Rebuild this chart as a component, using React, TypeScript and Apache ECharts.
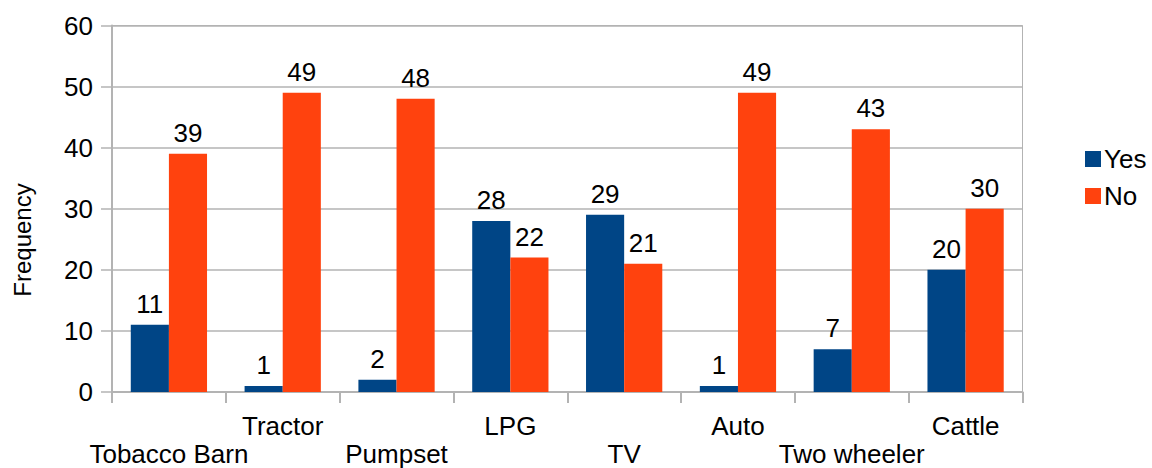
import React, { useEffect, useRef } from "react";
import * as echarts from "echarts";

const categories = ["Tobacco Barn", "Tractor", "Pumpset", "LPG", "TV", "Auto", "Two wheeler", "Cattle"];
const yesValues = [11, 1, 2, 28, 29, 1, 7, 20];
const noValues = [39, 49, 48, 22, 21, 49, 43, 30];
const seriesNames = ["Yes", "No"];
const yAxisTitle = "Frequency";

const FONT = "'Liberation Sans', Arial, sans-serif";
const GRID_COLOR = "#b3b3b3";

export default function App() {
  const ref = useRef<HTMLDivElement>(null);

  useEffect(() => {
    if (!ref.current) return;
    const chart = echarts.init(ref.current, undefined, { renderer: "svg" });
    const labelStyle = { color: "#000", fontFamily: FONT, fontSize: 26 };
    chart.setOption({
      animation: false,
      textStyle: { fontFamily: FONT },
      grid: {
        left: 112,
        right: 129.5,
        top: 25.5,
        bottom: 76,
        show: true,
        borderColor: GRID_COLOR,
        borderWidth: 1,
      },
      legend: {
        orient: "vertical",
        left: 1080,
        top: 141,
        icon: "rect",
        itemWidth: 16,
        itemHeight: 16,
        itemGap: 11,
        textStyle: { ...labelStyle, lineHeight: 26, padding: [0, 0, 0, -2] },
        data: seriesNames,
      },
      xAxis: {
        type: "category",
        data: categories,
        axisLine: { show: true, lineStyle: { color: GRID_COLOR, width: 2 } },
        axisTick: { show: true, length: 11, lineStyle: { color: GRID_COLOR, width: 2 } },
        axisLabel: {
          interval: 0,
          margin: 20,
          ...labelStyle,
          lineHeight: 28,
          formatter: (v: string, i: number) => (i % 2 === 0 ? "\n" + v : v),
        },
        splitLine: { show: false },
      },
      yAxis: {
        type: "value",
        min: 0,
        max: 60,
        interval: 10,
        axisLine: { show: true, lineStyle: { color: GRID_COLOR, width: 2 } },
        axisTick: { show: true, length: 11, lineStyle: { color: GRID_COLOR, width: 1.5 } },
        axisLabel: { margin: 19, ...labelStyle },
        splitLine: { show: true, lineStyle: { color: GRID_COLOR, width: 1.5 } },
      },
      series: [
        {
          name: seriesNames[0],
          type: "bar",
          data: yesValues,
          itemStyle: { color: "#004586" },
          barGap: "0%",
          barCategoryGap: "33%",
          label: { show: true, position: "top", distance: 8, ...labelStyle },
        },
        {
          name: seriesNames[1],
          type: "bar",
          data: noValues,
          itemStyle: { color: "#ff420e" },
          label: { show: true, position: "top", distance: 8, ...labelStyle },
        },
      ],
      graphic: [
        {
          type: "text",
          x: 22,
          y: 240,
          rotation: Math.PI / 2,
          style: {
            text: yAxisTitle,
            fill: "#000",
            font: `24px ${FONT}`,
            align: "center",
            verticalAlign: "middle",
          },
        },
      ],
    });
    return () => chart.dispose();
  }, []);

  return <div ref={ref} style={{ width: 1152, height: 468, position: "absolute", left: 0, top: 0 }} />;
}
